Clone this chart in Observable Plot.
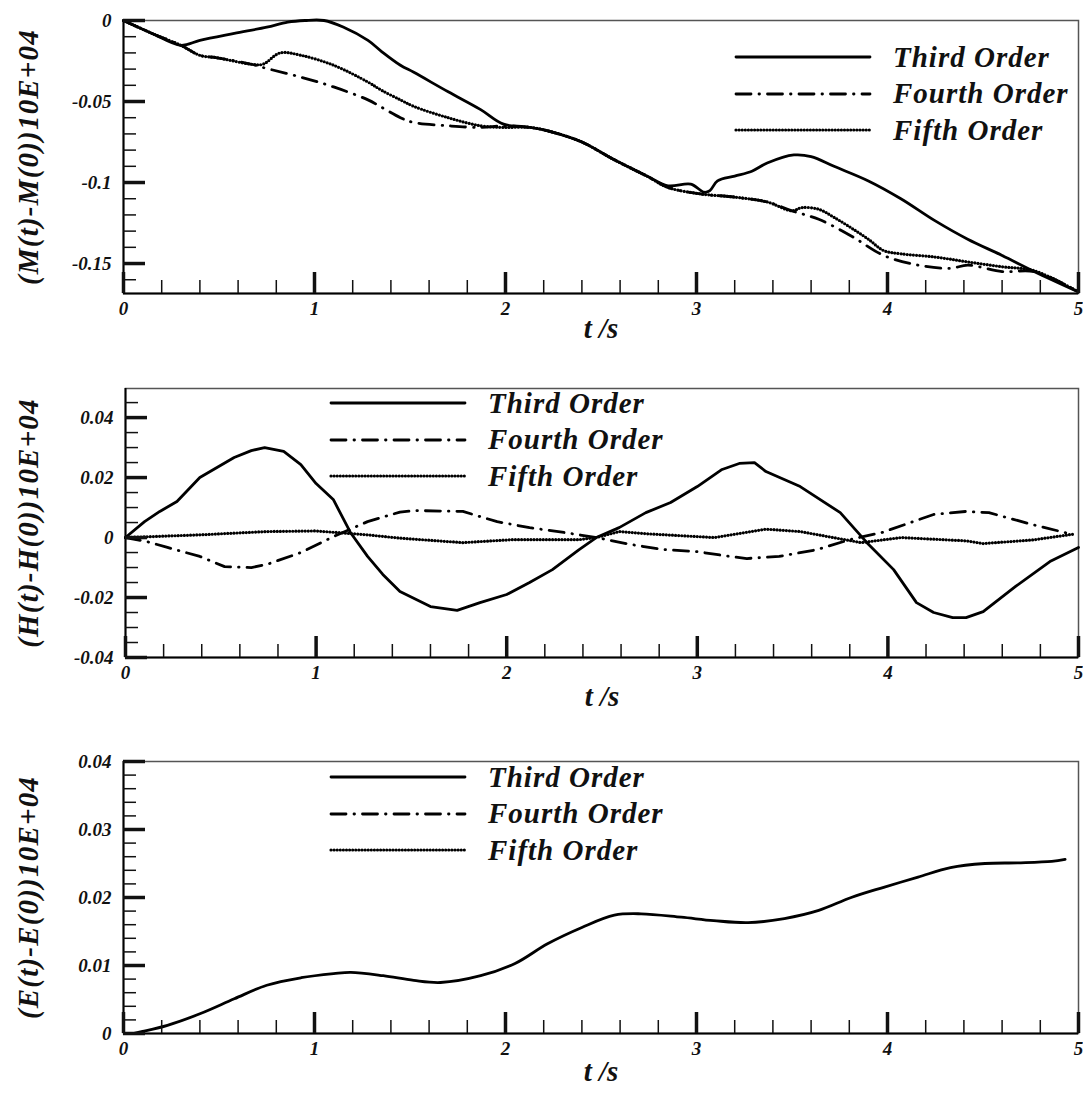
<!DOCTYPE html>
<html><head><meta charset="utf-8">
<script src="https://cdn.jsdelivr.net/npm/d3@7"></script>
<script src="https://cdn.jsdelivr.net/npm/@observablehq/plot@0.6"></script>
<style>
body{margin:0;background:#fff;}
#chart{position:relative;width:1083px;}
.panel{position:relative;width:1083px;}
.panel svg{display:block;}
.legend{position:absolute;font-family:"Liberation Serif","Times New Roman",serif;font-weight:bold;font-style:italic;font-size:29px;color:#111;}
.legend .row{display:flex;align-items:center;height:36.5px;}
.legend .row span{margin-left:21px;white-space:nowrap;letter-spacing:1px;}
</style></head><body><div id="chart"></div>
<script>
// ---------- data ----------
const seriesNames = ["Third Order", "Fourth Order", "Fifth Order"];
const xMajorTicks = [0, 1, 2, 3, 4, 5];

// Panel 1: (M(t)-M(0))10E+04
const m3T = [0, 0.15, 0.30, 0.40, 0.58, 0.75, 0.86, 0.95, 1.05, 1.15, 1.28, 1.35, 1.45, 1.52, 1.70, 1.87, 1.99, 2.13, 2.25, 2.40, 2.57, 2.74, 2.85, 2.97, 3.04, 3.07, 3.11, 3.20, 3.29, 3.37, 3.51, 3.60, 3.72, 3.90, 4.07, 4.25, 4.42, 4.60, 4.77, 5.0];
const m3V = [0, -0.008, -0.0153, -0.0123, -0.008, -0.0041, -0.001, 0, 0, -0.004, -0.0123, -0.019, -0.0276, -0.032, -0.044, -0.055, -0.064, -0.066, -0.069, -0.075, -0.086, -0.096, -0.102, -0.101, -0.106, -0.105, -0.099, -0.096, -0.093, -0.088, -0.083, -0.084, -0.090, -0.099, -0.110, -0.1237, -0.135, -0.145, -0.155, -0.1675];
const m4T = [0, 0.15, 0.30, 0.40, 0.49, 0.67, 0.73, 0.93, 1.10, 1.28, 1.35, 1.45, 1.52, 1.70, 1.87, 1.99, 2.13, 2.25, 2.40, 2.57, 2.74, 2.85, 3.02, 3.20, 3.37, 3.50, 3.64, 3.81, 3.98, 4.16, 4.33, 4.42, 4.60, 4.77, 5.0];
const m4V = [0, -0.008, -0.0153, -0.0215, -0.023, -0.027, -0.029, -0.035, -0.041, -0.049, -0.0535, -0.060, -0.063, -0.065, -0.066, -0.065, -0.066, -0.069, -0.075, -0.086, -0.096, -0.103, -0.107, -0.109, -0.112, -0.1175, -0.1227, -0.133, -0.145, -0.151, -0.153, -0.151, -0.155, -0.155, -0.1675];
const m5T = [0, 0.15, 0.30, 0.40, 0.49, 0.67, 0.73, 0.82, 0.93, 1.10, 1.28, 1.35, 1.45, 1.52, 1.70, 1.87, 1.99, 2.13, 2.25, 2.40, 2.57, 2.74, 2.85, 3.02, 3.20, 3.37, 3.50, 3.55, 3.64, 3.72, 3.81, 3.90, 3.98, 4.07, 4.25, 4.42, 4.60, 4.77, 5.0];
const m5V = [0, -0.008, -0.0153, -0.0215, -0.023, -0.027, -0.027, -0.020, -0.0215, -0.0276, -0.038, -0.043, -0.049, -0.053, -0.060, -0.065, -0.066, -0.066, -0.069, -0.075, -0.086, -0.096, -0.103, -0.107, -0.109, -0.112, -0.1175, -0.1155, -0.1165, -0.1215, -0.128, -0.135, -0.142, -0.144, -0.146, -0.149, -0.152, -0.1545, -0.1675];
const mMajorTicks = [0, -0.05, -0.1, -0.15];

// Panel 2: (H(t)-H(0))10E+04
const h3T = [0, 0.10, 0.18, 0.27, 0.39, 0.57, 0.66, 0.73, 0.83, 0.92, 1.0, 1.09, 1.18, 1.27, 1.35, 1.44, 1.60, 1.74, 1.86, 2.0, 2.12, 2.24, 2.38, 2.47, 2.59, 2.73, 2.86, 3.0, 3.13, 3.22, 3.30, 3.36, 3.54, 3.75, 3.89, 4.03, 4.15, 4.24, 4.34, 4.41, 4.50, 4.67, 4.85, 5.0];
const h3V = [0, 0.0053, 0.0087, 0.012, 0.020, 0.0267, 0.029, 0.030, 0.0287, 0.0243, 0.018, 0.0127, 0.0017, -0.0063, -0.0123, -0.018, -0.023, -0.0243, -0.0217, -0.019, -0.015, -0.0107, -0.004, 0, 0.0033, 0.0083, 0.0117, 0.017, 0.0227, 0.0247, 0.025, 0.022, 0.017, 0.0083, -0.0017, -0.0107, -0.0217, -0.025, -0.0267, -0.0267, -0.0247, -0.0163, -0.008, -0.0033];
const h4T = [0, 0.11, 0.22, 0.39, 0.52, 0.66, 0.74, 0.92, 1.09, 1.27, 1.44, 1.51, 1.77, 1.95, 2.12, 2.30, 2.47, 2.65, 2.82, 3.0, 3.17, 3.26, 3.43, 3.63, 3.80, 3.97, 4.24, 4.41, 4.53, 4.76, 4.97];
const h4V = [0, -0.0013, -0.0033, -0.0063, -0.0097, -0.010, -0.009, -0.005, 0.0003, 0.0053, 0.0085, 0.009, 0.0087, 0.0053, 0.0033, 0.0017, 0, -0.0023, -0.004, -0.0047, -0.0063, -0.007, -0.0063, -0.004, -0.0007, 0.0017, 0.0077, 0.0087, 0.0083, 0.0043, 0.001];
const h5T = [0, 0.39, 0.74, 1.0, 1.27, 1.44, 1.77, 2.03, 2.38, 2.47, 2.59, 2.75, 3.09, 3.36, 3.54, 3.86, 4.07, 4.41, 4.50, 4.76, 4.97];
const h5V = [0, 0.0009, 0.002, 0.0022, 0.0009, -0.0002, -0.0017, -0.0007, -0.0007, 0, 0.002, 0.0012, 0, 0.0028, 0.002, -0.0017, 0, -0.0011, -0.002, -0.0008, 0.0011];
const hMajorTicks = [0.04, 0.02, 0, -0.02, -0.04];

// Panel 3: (E(t)-E(0))10E+04
const e3T = [0.05, 0.10, 0.23, 0.40, 0.58, 0.75, 0.93, 1.10, 1.19, 1.36, 1.52, 1.66, 1.87, 2.05, 2.22, 2.40, 2.57, 2.71, 2.92, 3.09, 3.27, 3.46, 3.64, 3.81, 3.98, 4.16, 4.33, 4.51, 4.68, 4.86, 4.93];
const e3V = [0, 0.0003, 0.0012, 0.0029, 0.0051, 0.0071, 0.0082, 0.0088, 0.0090, 0.0085, 0.0078, 0.0075, 0.0085, 0.0103, 0.0132, 0.0156, 0.0174, 0.0176, 0.0171, 0.0166, 0.0163, 0.0169, 0.0181, 0.020, 0.0215, 0.023, 0.0244, 0.025, 0.0251, 0.0253, 0.0256];
const eMajorTicks = [0.04, 0.03, 0.02, 0.01, 0];

// ---------- styles ----------
const styles = [
  {strokeWidth: 2.8, strokeDasharray: null, strokeLinecap: "round"},
  {strokeWidth: 2.8, strokeDasharray: "15,8,0.5,8", strokeLinecap: "round"},
  {strokeWidth: 3.2, strokeDasharray: "0,3.1", strokeLinecap: "round"}
];
const FONT = '"Liberation Serif","Times New Roman",serif';
const rowsOf = (ts, vs) => ts.map((t, i) => ({t, v: vs[i]}));
const fix = d => +d.toFixed(6);
const xMinorTicks = d3.range(0, 5.0001, 0.2).map(fix).filter(d => !xMajorTicks.includes(d));

function makePanel(cfg) {
  const {series, yDomain, yMajor, yMinorStep, yLabel, height, marginTop, marginBottom, marginLeft, marginRight, xLabelDy, yLabelDx, curve, legendPos} = cfg;
  const yMinor = d3.range(yDomain[0] - 1e-9, yDomain[1] + 1e-9, yMinorStep)
    .map(d => fix(Math.round(d / yMinorStep) * yMinorStep))
    .filter(d => d >= yDomain[0] - 1e-9 && d <= yDomain[1] + 1e-9 && !yMajor.some(m => Math.abs(m - d) < 1e-9));
  const marks = [
    Plot.frame({stroke: "#555", strokeWidth: 1.5}),
    Plot.ruleX([0], {stroke: "#000", strokeWidth: 2}),
    Plot.ruleY([yDomain[0]], {stroke: "#000", strokeWidth: 2}),
    ...series.map((s, i) => Plot.line(s, {x: "t", y: "v", stroke: "#000", curve, ...styles[i]})),
    Plot.axisX({ticks: xMinorTicks, tickSize: -13, strokeWidth: 1.5, tickFormat: () => "", label: null}),
    Plot.axisX({ticks: xMajorTicks, tickSize: -21, tickPadding: 29, strokeWidth: 3.5, tickFormat: d => String(d), fontSize: 19, label: null}),
    Plot.axisY({ticks: yMinor, tickSize: -13, strokeWidth: 1.5, tickFormat: () => "", label: null}),
    Plot.axisY({ticks: yMajor, tickSize: -22, tickPadding: 34, strokeWidth: 3.5, tickFormat: d => String(d), fontSize: 19, label: null}),
    Plot.text(["t /s"], {text: d => d, frameAnchor: "bottom", dy: xLabelDy, fontSize: 29, fill: "#111"}),
    Plot.text([yLabel], {text: d => d, frameAnchor: "left", textAnchor: "middle", dx: yLabelDx, rotate: -90, fontSize: 29, fill: "#111"})
  ];
  const svg = Plot.plot({
    width: 1083, height, marginTop, marginBottom, marginLeft, marginRight,
    x: {domain: [0, 5]},
    y: {domain: yDomain},
    style: {fontFamily: FONT, fontWeight: "bold", fontStyle: "italic", color: "#111", background: "#fff"},
    marks
  });
  d3.select(svg).selectAll("text").filter(function() { return this.textContent === yLabel; })
    .style("letter-spacing", "1.2px");
  const wrap = document.createElement("div");
  wrap.className = "panel";
  wrap.appendChild(svg);
  const leg = document.createElement("div");
  leg.className = "legend";
  leg.style.left = legendPos.left + "px";
  leg.style.top = legendPos.top + "px";
  seriesNames.forEach((name, i) => {
    const row = document.createElement("div");
    row.className = "row";
    const st = styles[i];
    row.innerHTML = `<svg width="138" height="12"><line x1="2" x2="136" y1="6" y2="6" stroke="#000" stroke-width="${st.strokeWidth}" ${st.strokeDasharray ? `stroke-dasharray="${st.strokeDasharray}"` : ""} stroke-linecap="${st.strokeLinecap}"/></svg><span>${name}</span>`;
    leg.appendChild(row);
  });
  wrap.appendChild(leg);
  document.getElementById("chart").appendChild(wrap);
}

makePanel({
  series: [rowsOf(m3T, m3V), rowsOf(m4T, m4V), rowsOf(m5T, m5V)],
  yDomain: [-0.1685, 0], yMajor: mMajorTicks, yMinorStep: 0.01,
  yLabel: "(M(t)-M(0))10E+04",
  height: 368, marginTop: 20, marginBottom: 75, marginLeft: 123, marginRight: 5,
  xLabelDy: 44, yLabelDx: -95, curve: "catmull-rom",
  legendPos: {left: 734, top: 39}
});
makePanel({
  series: [rowsOf(h3T, h3V), rowsOf(h4T, h4V), rowsOf(h5T, h5V)],
  yDomain: [-0.04, 0.0497], yMajor: hMajorTicks, yMinorStep: 0.005,
  yLabel: "(H(t)-H(0))10E+04",
  height: 373, marginTop: 20, marginBottom: 84, marginLeft: 125, marginRight: 5,
  xLabelDy: 48, yLabelDx: -97, curve: "linear",
  legendPos: {left: 329, top: 17}
});
makePanel({
  series: [rowsOf(e3T, e3V)],
  yDomain: [0, 0.04], yMajor: eMajorTicks, yMinorStep: 0.002,
  yLabel: "(E(t)-E(0))10E+04",
  height: 354, marginTop: 20, marginBottom: 62, marginLeft: 123, marginRight: 5,
  xLabelDy: 47, yLabelDx: -95, curve: "catmull-rom",
  legendPos: {left: 329, top: 18}
});
</script></body></html>
